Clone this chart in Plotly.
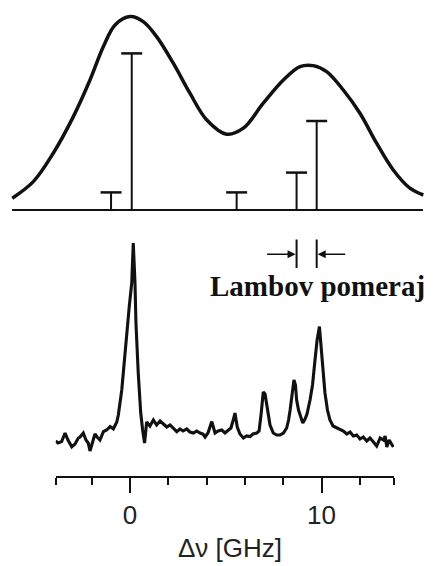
import plotly.graph_objects as go

# ---------------- data ----------------
# Top panel: Doppler-broadened envelope (GHz, relative intensity)
env_ghz = [-6.15, -5.05, -4.01, -2.96, -2.09, -1.39, -0.78, 0.0, 0.69, 1.39,
           2.26, 3.13, 4.01, 5.05, 5.92, 6.96, 8.01, 8.88, 9.57, 10.27,
           11.14, 12.01, 12.88, 13.75, 14.62, 15.32]
env_int = [5.9, 14.2, 28.4, 46.7, 65.0, 81.7, 92.5, 96.7, 94.2, 86.7,
           73.4, 58.4, 45.0, 37.9, 40.9, 53.4, 65.0, 71.7, 72.2, 69.2,
           60.0, 48.4, 33.4, 20.0, 10.9, 7.5]
baseline_ghz = [-6.16, 15.3]

# Top panel: fine-structure components (stick spectrum)
stick_ghz = [-0.99, 0.09, 5.57, 8.70, 9.75]
stick_int = [8.8, 78.3, 8.8, 18.7, 44.5]

# Bottom panel: measured spectrum
spec_ghz = [-3.88, -3.76, -3.57, -3.39, -3.24, -3.04, -2.87, -2.70, -2.61, -2.44,
            -2.30, -2.18, -2.09, -1.92, -1.83, -1.72, -1.57, -1.39, -1.22, -1.04,
            -0.87, -0.69, -0.61, -0.43, -0.26, -0.04, 0.09, 0.17, 0.26, 0.31,
            0.43, 0.56, 0.66, 0.76, 0.87, 1.04, 1.22, 1.39, 1.57, 1.72,
            1.92, 2.09, 2.26, 2.44, 2.61, 2.77, 2.96, 3.13, 3.31, 3.48,
            3.66, 3.81, 3.92, 4.07, 4.27, 4.36, 4.44, 4.60, 4.79, 4.96,
            5.13, 5.27, 5.39, 5.48, 5.60, 5.74, 5.92, 6.09, 6.27, 6.42,
            6.62, 6.74, 6.84, 6.96, 7.05, 7.14, 7.23, 7.31, 7.48, 7.66,
            7.83, 8.01, 8.18, 8.28, 8.36, 8.46, 8.56, 8.64, 8.70, 8.80,
            8.88, 9.02, 9.14, 9.24, 9.40, 9.53, 9.66, 9.77, 9.89, 9.98,
            10.08, 10.18, 10.31, 10.44, 10.60, 10.79, 10.97, 11.14, 11.32, 11.49,
            11.66, 11.84, 12.01, 12.18, 12.36, 12.53, 12.71, 12.88, 13.06, 13.23,
            13.32, 13.41, 13.53, 13.67, 13.75]
spec_int = [2.0, 1.0, 1.7, 6.0, 2.5, -0.9, 0.5, 3.5, 4.0, 6.0,
            2.5, 1.0, -3.0, 2.5, 5.5, 4.0, 2.5, 6.7, 7.5, 9.2,
            8.0, 11.5, 15.0, 27.5, 47.5, 69.2, 81.0, 101.0, 81.0, 61.0,
            36.0, 16.0, 7.5, 1.0, 11.5, 9.5, 12.5, 10.0, 12.0, 10.5,
            9.0, 10.0, 8.5, 6.7, 8.0, 7.0, 8.0, 6.5, 6.0, 7.0,
            6.0, 5.5, 4.0, 6.0, 11.7, 8.5, 6.0, 7.0, 7.5, 6.0,
            7.5, 8.5, 12.5, 16.0, 9.0, 5.5, 3.5, 4.5, 4.2, 5.5,
            6.0, 7.0, 15.0, 26.5, 25.5, 20.0, 13.5, 10.0, 6.0, 5.0,
            5.0, 6.0, 8.5, 12.5, 17.5, 26.5, 32.5, 30.0, 22.5, 17.5,
            15.0, 11.0, 13.0, 15.5, 22.5, 30.0, 42.5, 52.5, 59.2, 50.0,
            38.5, 26.0, 17.5, 12.5, 9.5, 8.5, 7.5, 7.0, 5.5, 6.5,
            4.5, 5.0, 3.0, 4.0, 2.0, 3.5, 1.5, -0.5, 3.5, 2.5,
            4.5, -1.0, 2.5, 0.5, -1.0]

axis_range = [-3.88, 13.80]
major_ticks = [0, 10]
major_labels = ["0", "10"]
minor_ticks = [-3.88, -2, 2, 4, 6, 8, 12, 13.80]
x_title = "Δν [GHz]"
lamb_label = "Lambov pomeraj"

INK = "#111111"

fig = go.Figure()

# baseline of the top panel
fig.add_trace(go.Scatter(x=baseline_ghz, y=[0, 0], mode="lines",
                         line=dict(color=INK, width=2), xaxis="x", yaxis="y",
                         hoverinfo="skip"))
# envelope
fig.add_trace(go.Scatter(x=env_ghz, y=env_int, mode="lines",
                         line=dict(color=INK, width=3.5, shape="spline", smoothing=1.0),
                         xaxis="x", yaxis="y"))
# sticks
sx, sy = [], []
for gx, gi in zip(stick_ghz, stick_int):
    sx += [gx, gx, None]
    sy += [0, gi, None]
fig.add_trace(go.Scatter(x=sx, y=sy, mode="lines", line=dict(color=INK, width=2),
                         xaxis="x", yaxis="y"))
fig.add_trace(go.Scatter(x=stick_ghz, y=stick_int, mode="markers",
                         marker=dict(symbol="line-ew", size=15,
                                     line=dict(color=INK, width=2.5)),
                         xaxis="x", yaxis="y"))
# measured spectrum
fig.add_trace(go.Scatter(x=spec_ghz, y=spec_int, mode="lines",
                         line=dict(color=INK, width=3.1),
                         xaxis="x2", yaxis="y2"))

H = 566.0
W = 435.0

def py(p):
    return 1 - p / H

# Lamb shift marker bars and arrows
for gx in stick_ghz[3:5]:
    fig.add_shape(type="line", xref="x", yref="paper", x0=gx, x1=gx,
                  y0=py(239.5), y1=py(268), line=dict(color=INK, width=2))
fig.add_annotation(x=stick_ghz[3], y=py(254.3), xref="x", yref="paper",
                   ax=-31, ay=0, axref="pixel", ayref="pixel", text="",
                   showarrow=True, arrowhead=2, arrowsize=1, arrowwidth=1.6,
                   arrowcolor=INK, standoff=1)
fig.add_annotation(x=stick_ghz[4], y=py(254.3), xref="x", yref="paper",
                   ax=30, ay=0, axref="pixel", ayref="pixel", text="",
                   showarrow=True, arrowhead=2, arrowsize=1, arrowwidth=1.6,
                   arrowcolor=INK, standoff=1)
fig.add_annotation(x=317.5 / W, y=py(286), xref="paper", yref="paper",
                   text="<b>" + lamb_label + "</b>", showarrow=False,
                   xanchor="center", yanchor="middle",
                   font=dict(family="Liberation Serif", size=29, color=INK))
fig.add_annotation(x=230 / W, y=py(548), xref="paper", yref="paper",
                   text=x_title, showarrow=False, xanchor="center", yanchor="middle",
                   font=dict(family="Liberation Sans", size=26, color="#222222"))

fig.update_layout(
    width=435, height=566,
    margin=dict(l=0, r=0, t=0, b=0),
    paper_bgcolor="white", plot_bgcolor="rgba(0,0,0,0)",
    showlegend=False,
    xaxis=dict(domain=[0, 1], range=[-6.79, 15.93], visible=False, anchor="y"),
    yaxis=dict(domain=[0, 1], range=[-178, 105], visible=False, anchor="x"),
    xaxis2=dict(domain=[55.7 / W, 394.3 / W], range=axis_range, anchor="free",
                position=py(477), showline=True, linecolor=INK, linewidth=2,
                showgrid=False, zeroline=False,
                tickmode="array", tickvals=major_ticks, ticktext=major_labels,
                ticks="outside", ticklen=15, tickwidth=2, tickcolor=INK,
                tickfont=dict(family="Liberation Sans", size=26, color="#222222"),
                minor=dict(tickmode="array", tickvals=minor_ticks, ticks="outside",
                           ticklen=7, tickwidth=2, tickcolor=INK, showgrid=False)),
    yaxis2=dict(domain=[0, 1], range=[-60.5, 222.5], visible=False, anchor="x2",
                overlaying="y"),
)

fig.write_html("out.html")
